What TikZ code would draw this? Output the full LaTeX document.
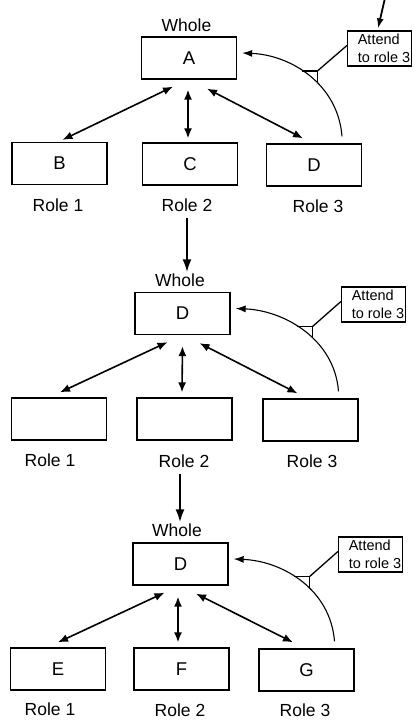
\documentclass[tikz,border=0pt]{standalone}
\usepackage{fontspec}
\setmainfont{Liberation Sans}
\usetikzlibrary{arrows.meta}
\begin{document}
\begin{tikzpicture}[x=1pt,y=-1pt,
  box/.style={draw, line width=1.3pt, minimum width=95pt, minimum height=42pt,
    inner sep=0pt, font=\fontsize{18.5}{20}\selectfont},
  lbl/.style={inner sep=0pt, font=\fontsize{17.5}{20}\selectfont},
  note/.style={draw, line width=1.2pt, minimum height=35pt, minimum width=64pt,
    inner xsep=0.5pt, inner ysep=0pt, align=left, font=\fontsize{14.5}{18}\selectfont},
  link/.style={{Latex[length=10pt,width=8pt]}-{Latex[length=10pt,width=8pt]}, line width=1.6pt},
  focus/.style={-{Latex[length=10pt,width=7pt]}, line width=1.1pt},
  tie/.style={line width=1.3pt},
  cue/.style={-{Latex[length=10pt,width=7pt]}, line width=1.8pt},
  stage/.style={-{Latex[length=13pt,width=9pt]}, line width=2.2pt},
]
\useasboundingbox (0,0) rectangle (415,720);

% ---------- first stage: A with roles B, C, D ----------
\node[lbl] (w1) at (186.5,25) {Whole};
\node[box] (a1) at (189,58) {A};
\node[box] (b1) at (59.5,163.5) {B};
\node[box] (c1) at (190,164) {C};
\node[box] (d1) at (314,165) {D};
\node[lbl] (r11) at (58,205) {Role 1};
\node[lbl] (r12) at (187,205) {Role 2};
\node[lbl] (r13) at (318,206) {Role 3};
\node[note] (n1) at (379.5,48.5) {\hspace*{9pt}Attend\\\hspace*{9pt}to role 3};

\draw[link] ([xshift=-16pt,yshift=-7pt]a1.south) -- ([xshift=3pt,yshift=2pt]b1.north);
\draw[link] ([xshift=-1pt,yshift=-10pt]a1.south) -- ([xshift=-2pt,yshift=4pt]c1.north);
\draw[link] ([xshift=18pt,yshift=-9pt]a1.south) -- ([xshift=-11pt,yshift=5pt]d1.north);

\draw[focus] ([xshift=28pt,yshift=7pt]d1.north) .. controls +(-4,-52) and +(49,2) ..
  ([xshift=5pt,yshift=5pt]a1.east) coordinate[pos=0.42] (p1) coordinate[pos=0.56] (q1);
\coordinate (k1) at (p1 |- q1);
\draw[tie] (p1) -- (k1) -- (q1);
\draw[tie] (k1) -- ([yshift=3pt]n1.west);

\coordinate (in1) at (385,-2);
\draw[cue] (in1) -- ([xshift=-1.5pt,yshift=2pt]n1.north);

% ---------- second stage: D with empty roles ----------
\node[lbl] (w2) at (180,280) {Whole};
\node[box] (a2) at (182.5,313.5) {D};
\node[box] (b2) at (59,419) {};
\node[box] (c2) at (184.5,419) {};
\node[box] (d2) at (310.5,420) {};
\node[lbl] (r21) at (50,460) {Role 1};
\node[lbl] (r22) at (184,461) {Role 2};
\node[lbl] (r23) at (312,461) {Role 3};
\node[note] (n2) at (373.5,304.5) {\hspace*{9pt}Attend\\\hspace*{9pt}to role 3};

\draw[link] ([xshift=-15pt,yshift=-7pt]a2.south) -- ([xshift=1pt,yshift=5pt]b2.north);
\draw[link] ([xshift=0pt,yshift=-11pt]a2.south) -- ([xshift=-2.5pt,yshift=5pt]c2.north);
\draw[link] ([xshift=17pt,yshift=-8pt]a2.south) -- ([xshift=-13pt,yshift=5pt]d2.north);

\draw[focus] ([xshift=28pt,yshift=7pt]d2.north) .. controls +(-4,-52) and +(49,2) ..
  ([xshift=5pt,yshift=5pt]a2.east) coordinate[pos=0.42] (p2) coordinate[pos=0.56] (q2);
\coordinate (k2) at (p2 |- q2);
\draw[tie] (p2) -- (k2) -- (q2);
\draw[tie] (k2) -- ([yshift=3pt]n2.west);

% ---------- third stage: D with roles E, F, G ----------
\node[lbl] (w3) at (177,530) {Whole};
\node[box] (a3) at (180.5,564) {D};
\node[box] (b3) at (58,669) {E};
\node[box] (c3) at (181.5,669) {F};
\node[box] (d3) at (306.5,670) {G};
\node[lbl] (r31) at (50,709) {Role 1};
\node[lbl] (r32) at (180,710) {Role 2};
\node[lbl] (r33) at (305,710) {Role 3};
\node[note] (n3) at (370.5,554.5) {\hspace*{9pt}Attend\\\hspace*{9pt}to role 3};

\draw[link] ([xshift=-16pt,yshift=-7pt]a3.south) -- ([xshift=0pt,yshift=5pt]b3.north);
\draw[link] ([xshift=-2.5pt,yshift=-11pt]a3.south) -- ([xshift=-3.5pt,yshift=5pt]c3.north);
\draw[link] ([xshift=15.5pt,yshift=-8pt]a3.south) -- ([xshift=-13.5pt,yshift=6pt]d3.north);

\draw[focus] ([xshift=28pt,yshift=7pt]d3.north) .. controls +(-4,-52) and +(49,2) ..
  ([xshift=5pt,yshift=5pt]a3.east) coordinate[pos=0.42] (p3) coordinate[pos=0.56] (q3);
\coordinate (k3) at (p3 |- q3);
\draw[tie] (p3) -- (k3) -- (q3);
\draw[tie] (k3) -- ([yshift=3pt]n3.west);

% ---------- transitions between stages ----------
\coordinate (s1) at (r12.south |- w2.north);
\draw[stage] ([yshift=-6pt]r12.south) -- ([yshift=1pt]s1);
\coordinate (t2) at ([xshift=-4pt,yshift=-6pt]r22.south);
\coordinate (s2) at (t2 |- w3.north);
\draw[stage] (t2) -- ([yshift=1pt]s2);
\end{tikzpicture}
\end{document}
